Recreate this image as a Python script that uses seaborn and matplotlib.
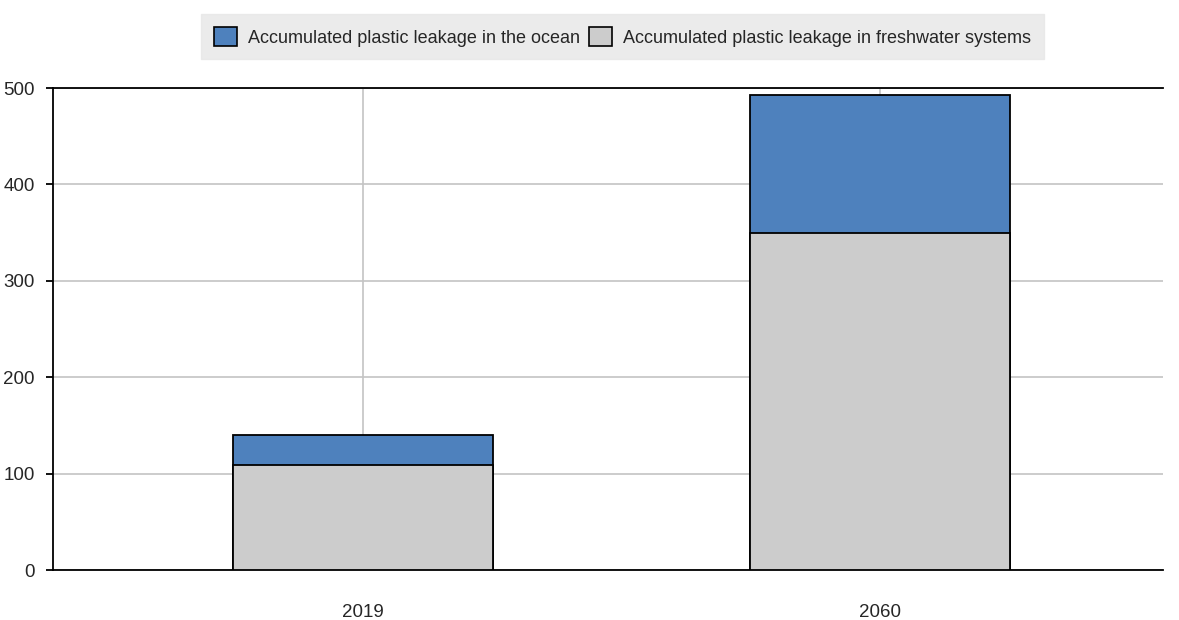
import matplotlib
matplotlib.use("Agg")
import matplotlib.pyplot as plt
from matplotlib.patches import Patch
import seaborn as sns
import pandas as pd

years = ["2019", "2060"]
ocean = [31, 143]
freshwater = [109, 350]
series_labels = ["Accumulated plastic leakage in the ocean",
                 "Accumulated plastic leakage in freshwater systems"]
y_ticks = [0, 100, 200, 300, 400, 500]

sns.set_style("white")
plt.rcParams["font.family"] = ["Liberation Sans Narrow", "Liberation Sans", "DejaVu Sans"]

df = pd.DataFrame({"year": years, "ocean": ocean, "freshwater": freshwater})
df["total"] = df["ocean"] + df["freshwater"]

fig = plt.figure(figsize=(11.79, 6.2), dpi=100)
ax = fig.add_axes([0.045, 0.0806, 0.9415, 0.7774])

blue = "#4e81bd"
grey = "#cccccc"

# ocean stacked on top of freshwater: draw totals first, then freshwater over them
sns.barplot(data=df, x="year", y="total", color=blue, width=0.503,
            edgecolor="black", linewidth=1.3, saturation=1, ax=ax, zorder=3)
sns.barplot(data=df, x="year", y="freshwater", color=grey, width=0.503,
            edgecolor="black", linewidth=1.3, saturation=1, ax=ax, zorder=3)

ax.set_xlim(-0.6, 1.547)
ax.set_ylim(0, 500)
ax.set_yticks(y_ticks)
ax.set_xlabel("")
ax.set_ylabel("")
ax.grid(True, color="#c4c4c4", linewidth=1.2, zorder=0)
ax.set_axisbelow(True)

for side in ["left", "bottom", "top"]:
    ax.spines[side].set_visible(True)
    ax.spines[side].set_color("black")
    ax.spines[side].set_linewidth(1.3)
ax.spines["right"].set_visible(False)

ax.tick_params(axis="y", left=True, length=5, width=1.3, color="black",
               labelsize=13.5, pad=8)
ax.tick_params(axis="x", bottom=False, labelsize=13.5, pad=21)

handles = [Patch(facecolor=blue, edgecolor="black", linewidth=1.2),
           Patch(facecolor=grey, edgecolor="black", linewidth=1.2)]
leg = fig.legend(handles, series_labels, loc="center", ncol=2,
                 bbox_to_anchor=(0.528, 0.941), frameon=True, fancybox=False,
                 fontsize=13, handlelength=1.3, handleheight=1.3,
                 handletextpad=0.6, columnspacing=0.5, borderpad=0.7)
leg.get_frame().set_facecolor("#e6e6e6")
leg.get_frame().set_edgecolor("#e6e6e6")

fig.savefig("out.png", dpi=100)
